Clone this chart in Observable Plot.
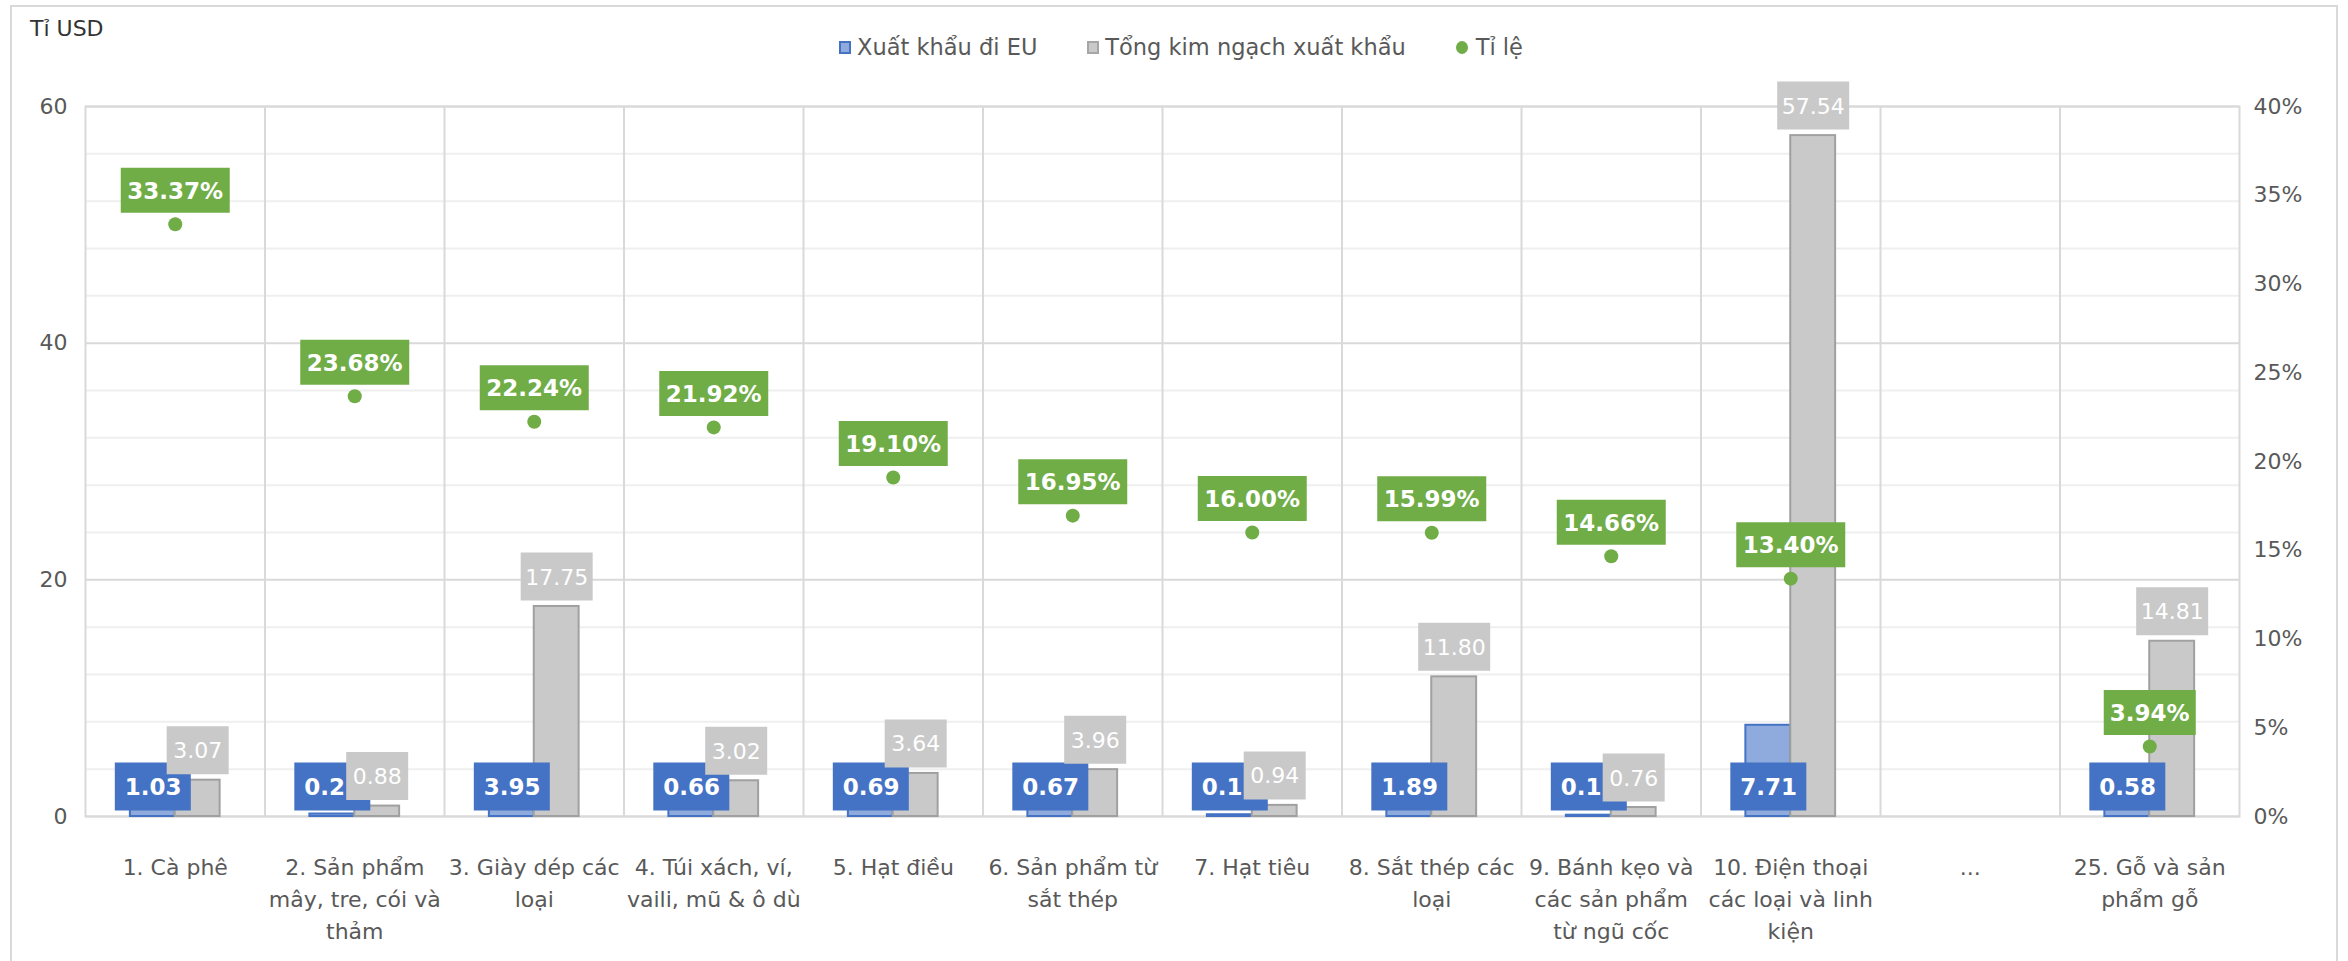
<!DOCTYPE html>
<html>
<head>
<meta charset="utf-8">
<script src="https://cdn.jsdelivr.net/npm/d3@7"></script>
<script src="https://cdn.jsdelivr.net/npm/@observablehq/plot@0.6"></script>
<style>
  html, body { margin: 0; padding: 0; background: #fff; }
  body { width: 2348px; height: 961px; overflow: hidden; position: relative; font-family: "DejaVu Sans", sans-serif; }
  #border { position: absolute; left: 10px; top: 5px; width: 2328px; height: 1000px; border: 2px solid #d9d9d9; box-sizing: border-box; pointer-events: none; z-index: 10; }
  #header { position: relative; height: 80px; }
  #title { position: absolute; left: 30px; top: 16px; font-size: 22px; color: #333; }
  #legend { position: absolute; left: 0; right: 0; top: 34px; display: flex; justify-content: center; align-items: center; font-size: 22.5px; color: #595959; white-space: nowrap; padding-left: 14px; }
  .item { display: flex; align-items: center; margin: 0 25px; }
  .sq { width: 12px; height: 13px; margin-right: 6px; box-sizing: border-box; }
  .dot { width: 12px; height: 13px; border-radius: 50%; margin-right: 8px; background: #70ad47; }
  #chart { position: relative; }
</style>
</head>
<body>
<div id="border"></div>
<div id="header">
  <div id="title">Tỉ USD</div>
  <div id="legend"></div>
</div>
<div id="chart"></div>
<script>
// ---- data ----
const categories = [
  "1. Cà phê",
  "2. Sản phẩm mây, tre, cói và thảm",
  "3. Giày dép các loại",
  "4. Túi xách, ví, vaili, mũ & ô dù",
  "5. Hạt điều",
  "6. Sản phẩm từ sắt thép",
  "7. Hạt tiêu",
  "8. Sắt thép các loại",
  "9. Bánh kẹo và các sản phẩm từ ngũ cốc",
  "10. Điện thoại các loại và linh kiện",
  "...",
  "25. Gỗ và sản phẩm gỗ"
];
const tickLabels = [
  "1. Cà phê",
  "2. Sản phẩm\nmây, tre, cói và\nthảm",
  "3. Giày dép các\nloại",
  "4. Túi xách, ví,\nvaili, mũ & ô dù",
  "5. Hạt điều",
  "6. Sản phẩm từ\nsắt thép",
  "7. Hạt tiêu",
  "8. Sắt thép các\nloại",
  "9. Bánh kẹo và\ncác sản phẩm\ntừ ngũ cốc",
  "10. Điện thoại\ncác loại và linh\nkiện",
  "...",
  "25. Gỗ và sản\nphẩm gỗ"
];
const euExports    = [1.03, 0.21, 3.95, 0.66, 0.69, 0.67, 0.15, 1.89, 0.11, 7.71, null, 0.58];
// EU labels as visible in the picture (two-decimal labels partly hidden by the grey labels)
const euLabels     = ["1.03", "0.2", "3.95", "0.66", "0.69", "0.67", "0.1", "1.89", "0.1", "7.71", null, "0.58"];
const totalExports = [3.07, 0.88, 17.75, 3.02, 3.64, 3.96, 0.94, 11.80, 0.76, 57.54, null, 14.81];
const ratios       = [33.37, 23.68, 22.24, 21.92, 19.10, 16.95, 16.00, 15.99, 14.66, 13.40, null, 3.94];
const leftTicks  = [0, 20, 40, 60];
const minorTicks = [4, 8, 12, 16, 24, 28, 32, 36, 44, 48, 52, 56];
const rightTicks = [0, 5, 10, 15, 20, 25, 30, 35, 40];
const seriesNames = ["Xuất khẩu đi EU", "Tổng kim ngạch xuất khẩu", "Tỉ lệ"];

// ---- colors ----
const BLUE_FILL = "#8faadc", BLUE = "#4472c4";
const GRAY_FILL = "#c9c9c9", GRAY_EDGE = "#a6a6a6";
const GREEN = "#70ad47";
const TEXT = "#595959";

// legend
const legend = document.getElementById("legend");
legend.innerHTML =
  `<div class="item"><div class="sq" style="background:${BLUE_FILL};border:2px solid ${BLUE}"></div>${seriesNames[0]}</div>` +
  `<div class="item"><div class="sq" style="background:${GRAY_FILL};border:2px solid ${GRAY_EDGE}"></div>${seriesNames[1]}</div>` +
  `<div class="item"><div class="dot"></div>${seriesNames[2]}</div>`;

// ---- layout ----
const W = 2348, H = 881;
const mL = 85, mR = 109, mT = 26, mB = 145;
const bw = (W - mL - mR) / categories.length;
const ratioScale = 60 / 40; // right axis (%) -> left axis units

const rows = categories.map((cat, i) => ({
  cat, eu: euExports[i], euLabel: euLabels[i], total: totalExports[i], ratio: ratios[i]
}));
const valid = rows.filter(d => d.total != null);

const fmt2 = v => v.toFixed(2);

function boxSymbol(w, h) {
  return { draw(ctx) { ctx.moveTo(-w / 2, -h / 2); ctx.lineTo(w / 2, -h / 2); ctx.lineTo(w / 2, h / 2); ctx.lineTo(-w / 2, h / 2); ctx.closePath(); } };
}
// label boxes grouped by width
function labelBoxes(data, textOf, widthOf, h, opts) {
  const groups = d3.group(data, d => widthOf(textOf(d)));
  return Array.from(groups, ([w, g]) => Plot.dot(g, { ...opts, symbol: boxSymbol(w, h), r: 5, stroke: "none" }));
}

const totText = d => fmt2(d.total);
const ratioText = d => fmt2(d.ratio) + "%";

const chart = Plot.plot({
  width: W,
  height: H,
  marginLeft: mL, marginRight: mR, marginTop: mT, marginBottom: mB,
  style: { fontFamily: "DejaVu Sans, sans-serif", fontSize: "22px", background: "white" },
  x: { domain: categories, padding: 0, round: false, axis: null },
  y: { domain: [0, 60], axis: null },
  marks: [
    // minor gridlines
    Plot.ruleY(minorTicks, { stroke: "#efefef", strokeWidth: 2 }),
    // major gridlines
    Plot.ruleY(leftTicks, { stroke: "#d9d9d9", strokeWidth: 2 }),
    // category separators
    Plot.ruleX(categories.slice(1), { x: d => d, dx: -bw / 2, stroke: "#d9d9d9", strokeWidth: 2 }),
    Plot.frame({ stroke: "#d9d9d9", strokeWidth: 2 }),
    // bars
    Plot.barY(valid, { x: "cat", y: "eu", insetLeft: bw * 0.25, insetRight: bw * 0.5, fill: BLUE_FILL, stroke: BLUE, strokeWidth: 2 }),
    Plot.barY(valid, { x: "cat", y: "total", insetLeft: bw * 0.5, insetRight: bw * 0.25, fill: GRAY_FILL, stroke: "#a0a0a0", strokeWidth: 2 }),
    // blue labels (fixed near baseline)
    ...labelBoxes(valid, d => d.euLabel, t => 76, 48, { x: "cat", y: () => 0, dx: -bw / 8, dy: -30, fill: BLUE }),
    Plot.text(valid, { x: "cat", y: () => 0, dx: -bw / 8 - 28, dy: -29, text: "euLabel", textAnchor: "start", fill: "white", fontWeight: "bold", fontSize: 23 }),
    // gray labels above total bars
    ...labelBoxes(valid, totText, t => (t.length > 4 ? 72 : 62), 48, { x: "cat", y: "total", dx: bw / 8, dy: -30, fill: GRAY_FILL }),
    Plot.text(valid, { x: "cat", y: "total", dx: bw / 8, dy: -29, text: totText, fill: "white", fontSize: 22 }),
    // ratio dots
    Plot.dot(valid, { x: "cat", y: d => d.ratio * ratioScale, r: 7, fill: GREEN }),
    ...labelBoxes(valid, ratioText, t => (t.length > 5 ? 109 : 92), 45, { x: "cat", y: d => d.ratio * ratioScale, dy: -34, fill: GREEN }),
    Plot.text(valid, { x: "cat", y: d => d.ratio * ratioScale, dy: -33, text: ratioText, fill: "white", fontWeight: "bold", fontSize: 23 }),
    // axes
    Plot.axisY(leftTicks, { anchor: "left", tickSize: 0, tickPadding: 18, fill: TEXT, fontSize: 22, label: null }),
    Plot.axisY(rightTicks.map(p => p * ratioScale), { anchor: "right", tickSize: 0, tickPadding: 14, fill: TEXT, fontSize: 22, label: null,
      tickFormat: v => `${Math.round(v / ratioScale)}%` }),
    Plot.axisX({ tickSize: 0, tickPadding: 36, fill: TEXT, fontSize: 22, lineHeight: 1.45, label: null,
      tickFormat: d => tickLabels[categories.indexOf(d)] })
  ]
});
document.getElementById("chart").appendChild(chart);
</script>
</body>
</html>
